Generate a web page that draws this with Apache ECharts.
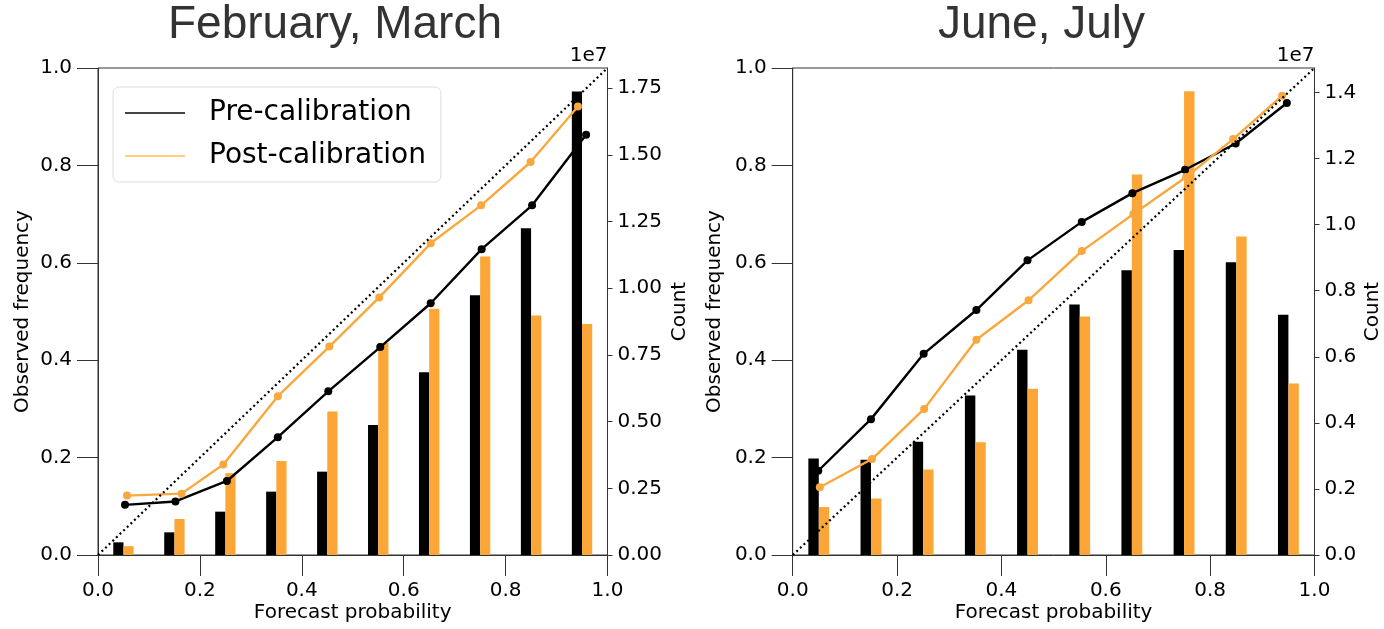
<!DOCTYPE html>
<html>
<head>
<meta charset="utf-8">
<script src="https://cdn.jsdelivr.net/npm/echarts@6/dist/echarts.min.js"></script>
<style>
  html, body { margin: 0; padding: 0; background: #fff; }
  #chart { width: 1384px; height: 629px; }
</style>
</head>
<body>
<div id="chart"></div>
<script>
// Reliability diagrams: observed frequency vs forecast probability, with per-bin counts.
const binCenters = [0.05, 0.15, 0.25, 0.35, 0.45, 0.55, 0.65, 0.75, 0.85, 0.95];
const probTicks = [0, 0.2, 0.4, 0.6, 0.8, 1.0];

// February, March
const fmPreProb   = [0.053, 0.152, 0.253, 0.353, 0.452, 0.554, 0.653, 0.753, 0.852, 0.958];
const fmPreFreq   = [0.103, 0.110, 0.152, 0.242, 0.336, 0.427, 0.517, 0.628, 0.718, 0.863];
const fmPostProb  = [0.057, 0.164, 0.246, 0.353, 0.454, 0.552, 0.653, 0.752, 0.849, 0.942];
const fmPostFreq  = [0.122, 0.126, 0.186, 0.326, 0.428, 0.529, 0.640, 0.718, 0.807, 0.921];
const fmPreCount  = [475000, 850000, 1625000, 2375000, 3125000, 4875000, 6850000, 9740000, 12250000, 17380000];
const fmPostCount = [330000, 1350000, 3070000, 3520000, 5380000, 7950000, 9230000, 11190000, 8980000, 8660000];
const fmCountTicks = [0, 2500000, 5000000, 7500000, 10000000, 12500000, 15000000, 17500000];

// June, July
const jjPreProb   = [0.049, 0.150, 0.251, 0.352, 0.450, 0.554, 0.651, 0.752, 0.849, 0.947];
const jjPreFreq   = [0.173, 0.279, 0.413, 0.503, 0.605, 0.684, 0.743, 0.791, 0.845, 0.928];
const jjPostProb  = [0.052, 0.152, 0.252, 0.352, 0.452, 0.554, 0.653, 0.754, 0.844, 0.938];
const jjPostFreq  = [0.139, 0.197, 0.300, 0.442, 0.523, 0.624, 0.700, 0.776, 0.854, 0.943];
const jjPreCount  = [2920000, 2880000, 3430000, 4830000, 6210000, 7580000, 8620000, 9230000, 8860000, 7270000];
const jjPostCount = [1450000, 1710000, 2590000, 3410000, 5030000, 7220000, 11520000, 14040000, 9640000, 5190000];
const jjCountTicks = [0, 2000000, 4000000, 6000000, 8000000, 10000000, 12000000, 14000000];

const BLACK = '#000000';
const ORANGE = '#FBA637';
const ORANGE_LINE = '#F9A83E';
const SPINE = '#333333';
const FONT = 'DejaVu Sans';

const zip = (a, b) => a.map((v, i) => [v, b[i]]);

const grids = [
  { left: 98, top: 68, width: 509.5, height: 487, show: true, borderColor: SPINE, borderWidth: 1, backgroundColor: 'transparent' },
  { left: 792.7, top: 68, width: 521.8, height: 487, show: true, borderColor: SPINE, borderWidth: 1, backgroundColor: 'transparent' }
];

function probAxis(gridIndex) {
  return {
    type: 'value', gridIndex, min: 0, max: 1, interval: 0.2,
    axisLine: { show: true, onZero: false, lineStyle: { color: SPINE, width: 1 } },
    axisTick: { show: true, length: 21, lineStyle: { color: SPINE, width: 1 } },
    axisLabel: { margin: 26, fontSize: 20, fontFamily: FONT, color: '#000', formatter: v => v.toFixed(1) },
    splitLine: { show: false }
  };
}

function freqAxis(gridIndex) {
  return {
    type: 'value', gridIndex, position: 'left', min: 0, max: 1, interval: 0.2,
    axisLine: { show: true, onZero: false, lineStyle: { color: SPINE, width: 1 } },
    axisTick: { show: true, length: 21, lineStyle: { color: SPINE, width: 1 } },
    axisLabel: { margin: 26, fontSize: 20, fontFamily: FONT, color: '#000', formatter: v => v.toFixed(1) },
    splitLine: { show: false }
  };
}

function countAxis(gridIndex, max, ticks, digits) {
  return {
    type: 'value', gridIndex, position: 'right', min: 0, max,
    axisLine: { show: true, onZero: false, lineStyle: { color: SPINE, width: 1 } },
    axisTick: { show: true, length: 5, customValues: ticks, lineStyle: { color: SPINE, width: 1 } },
    axisLabel: { margin: 10, fontSize: 20, fontFamily: FONT, color: '#000', customValues: ticks,
                 formatter: v => (v / 1e7).toFixed(digits) },
    splitLine: { show: false }
  };
}

function barSeries(name, xIdx, yIdx, counts, x0, x1, color) {
  return {
    name, type: 'custom', xAxisIndex: xIdx, yAxisIndex: yIdx, z: 1,
    data: zip(binCenters, counts),
    encode: { x: 0, y: 1 },
    renderItem: (params, api) => {
      const x = api.value(0), v = api.value(1);
      const a = api.coord([x + x0, v]);
      const b = api.coord([x + x1, 0]);
      return { type: 'rect', shape: { x: a[0], y: a[1], width: b[0] - a[0], height: b[1] - a[1] },
               style: { fill: color } };
    }
  };
}

function lineSeries(name, xIdx, yIdx, probs, freqs, color, width) {
  return {
    name, type: 'line', xAxisIndex: xIdx, yAxisIndex: yIdx, z: 3,
    data: zip(probs, freqs),
    symbol: 'circle', symbolSize: 8, showSymbol: true,
    lineStyle: { color, width },
    itemStyle: { color },
    animation: false
  };
}

function diagonal(xIdx, yIdx) {
  return {
    name: 'Perfect reliability', type: 'line', xAxisIndex: xIdx, yAxisIndex: yIdx, z: 4,
    data: [[0, 0], [1, 1]], symbol: 'none', silent: true,
    lineStyle: { color: '#000', width: 2.2, type: [2, 3] }
  };
}

function text(x, y, str, opts) {
  return Object.assign({
    type: 'text', x, y,
    style: Object.assign({ text: str, fill: '#000', font: '20px "' + FONT + '"', textAlign: 'center', textVerticalAlign: 'middle' }, opts && opts.style)
  }, opts && opts.extra);
}

const option = {
  backgroundColor: '#fff',
  animation: false,
  grid: grids,
  xAxis: [probAxis(0), probAxis(1)],
  yAxis: [
    freqAxis(0), countAxis(0, 18260000, fmCountTicks, 2),
    freqAxis(1), countAxis(1, 14740000, jjCountTicks, 1)
  ],
  legend: {
    left: 113, top: 87, orient: 'vertical',
    itemWidth: 60, itemHeight: 2, itemGap: 9,
    padding: [9, 15, 9, 12],
    backgroundColor: '#fff', borderColor: '#dddddd', borderWidth: 1, borderRadius: 6,
    textStyle: { fontSize: 28, fontFamily: FONT, color: '#000', lineHeight: 34, padding: [0, 0, 0, 19] },
    selectedMode: false,
    data: [
      { name: 'Pre-calibration', icon: 'rect', itemStyle: { color: '#444444' } },
      { name: 'Post-calibration', icon: 'rect', itemStyle: { color: '#FDD17C' } }
    ]
  },
  series: [
    barSeries('Pre-calibration count', 0, 1, fmPreCount, -0.02, 0, BLACK),
    barSeries('Post-calibration count', 0, 1, fmPostCount, 0, 0.02, ORANGE),
    lineSeries('Pre-calibration', 0, 0, fmPreProb, fmPreFreq, BLACK, 2.4),
    lineSeries('Post-calibration', 0, 0, fmPostProb, fmPostFreq, ORANGE_LINE, 2.4),
    diagonal(0, 0),
    barSeries('Pre-calibration count', 1, 3, jjPreCount, -0.02, 0, BLACK),
    barSeries('Post-calibration count', 1, 3, jjPostCount, 0, 0.02, ORANGE),
    lineSeries('Pre-calibration', 1, 2, jjPreProb, jjPreFreq, BLACK, 2.4),
    lineSeries('Post-calibration', 1, 2, jjPostProb, jjPostFreq, ORANGE_LINE, 2.4),
    diagonal(1, 2)
  ],
  graphic: [
    text(335, 25, 'February, March', { style: { font: '46px "Liberation Sans"', fill: '#333' } }),
    text(1041.5, 25, 'June, July', { style: { font: '46px "Liberation Sans"', fill: '#333' } }),
    text(607.5, 56, '1e7', { style: { textAlign: 'right' } }),
    text(1314.5, 56, '1e7', { style: { textAlign: 'right' } }),
    text(352.7, 613, 'Forecast probability'),
    text(1053.6, 613, 'Forecast probability'),
    text(23, 311.5, 'Observed frequency', { extra: { rotation: Math.PI / 2 } }),
    text(715, 311.5, 'Observed frequency', { extra: { rotation: Math.PI / 2 } }),
    text(680, 311.5, 'Count', { extra: { rotation: Math.PI / 2 } }),
    text(1373, 311.5, 'Count', { extra: { rotation: Math.PI / 2 } })
  ]
};

const chart = echarts.init(document.getElementById('chart'), null, { renderer: 'canvas' });
chart.setOption(option);
</script>
</body>
</html>
